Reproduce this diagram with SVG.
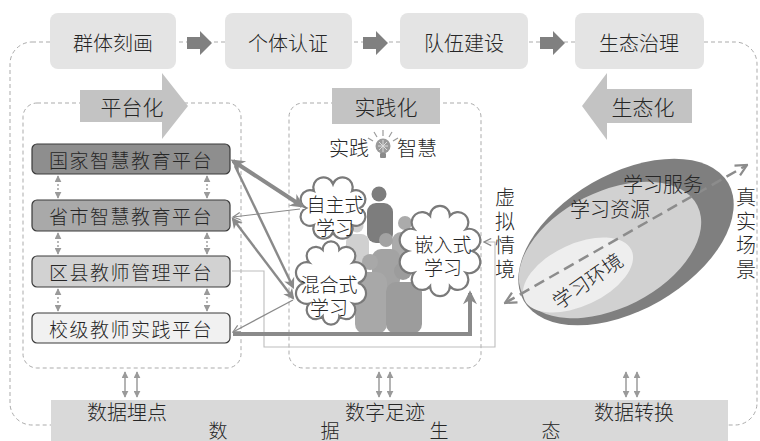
<svg xmlns="http://www.w3.org/2000/svg" width="760" height="441" viewBox="0 0 760 441">
  <style>
    text { font-family: "Noto Sans CJK SC", "Noto Sans", sans-serif; font-weight: 300; fill: #262626; dominant-baseline: central; text-anchor: middle; }
    .t20 { font-size: 20px; }
    .t19 { font-size: 19px; }
    .tp { font-size: 19px; letter-spacing: 1.5px; }
    .vt { font-size: 20px; writing-mode: vertical-rl; letter-spacing: 4px; text-anchor: start; }
    .stage { fill: #e4e4e4; }
    .flow { fill: #808080; }
    .band { fill: #c3c3c3; }
    .dash { fill: none; stroke: #ababab; stroke-width: 1; stroke-dasharray: 4 3; }
    .plat { stroke: #3a3a3a; stroke-width: 1.2; }
    .cloud { fill: #ffffff; stroke: #7a7a7a; stroke-width: 2.2; }
    .lnk { fill: none; stroke: #8a8a8a; }
    .dot { fill: none; stroke: #9a9a9a; stroke-width: 1.4; stroke-dasharray: 2 2; }
    .io { fill: none; stroke: #8c8c8c; stroke-width: 1.3; }
  </style>
  <defs>
    <marker id="hT" viewBox="0 0 10 10" refX="8" refY="5" markerWidth="16" markerHeight="14" markerUnits="userSpaceOnUse" orient="auto-start-reverse">
      <path d="M0,0 L10,5 L0,10 L3,5 z" fill="#8a8a8a"/>
    </marker>
    <marker id="hM" viewBox="0 0 10 10" refX="8" refY="5" markerWidth="12" markerHeight="11" markerUnits="userSpaceOnUse" orient="auto-start-reverse">
      <path d="M0,0 L10,5 L0,10 L3,5 z" fill="#8a8a8a"/>
    </marker>
    <marker id="hS" viewBox="0 0 10 10" refX="9" refY="5" markerWidth="9" markerHeight="9" markerUnits="userSpaceOnUse" orient="auto-start-reverse">
      <path d="M1,1 L9,5 L1,9" fill="none" stroke="#8a8a8a" stroke-width="1.4"/>
    </marker>
    <marker id="hD" viewBox="0 0 10 10" refX="9" refY="5" markerWidth="7" markerHeight="7" markerUnits="userSpaceOnUse" orient="auto-start-reverse">
      <path d="M0,0 L10,5 L0,10 z" fill="#9a9a9a"/>
    </marker>
    <marker id="hL" viewBox="0 0 10 10" refX="9" refY="5" markerWidth="14" markerHeight="14" markerUnits="userSpaceOnUse" orient="auto-start-reverse">
      <path d="M1,1 L9,5 L1,9" fill="none" stroke="#8c8c8c" stroke-width="1.6"/>
    </marker>
  </defs>

  <!-- outer loop frame -->
  <rect class="dash" x="10" y="42" width="747" height="383" rx="22"/>

  <!-- stage boxes -->
  <g id="stage-1"><rect class="stage" x="50" y="13" width="126" height="56" rx="8"/><text class="t20" x="113" y="42">群体刻画</text></g>
  <g id="stage-2"><rect class="stage" x="225" y="13" width="127" height="56" rx="8"/><text class="t20" x="288" y="42">个体认证</text></g>
  <g id="stage-3"><rect class="stage" x="400" y="13" width="128" height="56" rx="8"/><text class="t20" x="464" y="42">队伍建设</text></g>
  <g id="stage-4"><rect class="stage" x="575" y="13" width="129" height="56" rx="8"/><text class="t20" x="639" y="42">生态治理</text></g>

  <!-- section frames -->
  <rect class="dash" x="23" y="103" width="218" height="265" rx="14"/>
  <rect class="dash" x="289" y="103" width="192" height="265" rx="14"/>

  <!-- section headers -->
  <g id="platformize">
    <polygon class="band" points="80,90 162,90 162,73 188,106 162,139 162,122 80,122"/>
    <text class="t20" x="132" y="106" style="font-size:21px">平台化</text>
  </g>
  <g id="practicize">
    <rect class="band" x="332" y="88" width="108" height="36"/>
    <text class="t20" x="386" y="106" style="font-size:21px">实践化</text>
  </g>
  <g id="ecologize">
    <polygon class="band" points="692,89 607,89 607,73 582,106 607,140 607,123 692,123"/>
    <text class="t20" x="643" y="106" style="font-size:21px">生态化</text>
  </g>

  <!-- platforms -->
  <g id="plat-national"><rect class="plat" x="32" y="144" width="198" height="30" rx="5" fill="#8e8e8e"/><text class="tp" x="131" y="159">国家智慧教育平台</text></g>
  <g id="plat-province"><rect class="plat" x="32" y="200" width="198" height="31" rx="5" fill="#a9a9a9"/><text class="tp" x="131" y="215">省市智慧教育平台</text></g>
  <g id="plat-county"><rect class="plat" x="32" y="256" width="198" height="31" rx="5" fill="#d2d2d2"/><text class="tp" x="131" y="271">区县教师管理平台</text></g>
  <g id="plat-school"><rect class="plat" x="32" y="313" width="198" height="30" rx="5" fill="#f1f1f1"/><text class="tp" x="131" y="328">校级教师实践平台</text></g>

  <!-- practice wisdom title with bulb -->
  <g id="wisdom">
    <text class="t20" x="349" y="147">实践</text>
    <text class="t20" x="417" y="147">智慧</text>
    <g stroke="#9a9a9a" stroke-width="1.2">
      <line x1="383" y1="136" x2="383" y2="130"/>
      <line x1="377" y1="137" x2="374" y2="132"/>
      <line x1="389" y1="137" x2="392" y2="132"/>
      <line x1="373" y1="141" x2="368" y2="138"/>
      <line x1="393" y1="141" x2="398" y2="138"/>
    </g>
    <circle cx="383" cy="146" r="7.5" fill="#9a9a9a"/>
    <path d="M378,146 h10 M383,140 v12 M379,142 l8,8 M387,142 l-8,8" stroke="#dcdcdc" stroke-width="1"/>
    <rect x="380" y="153" width="6" height="5" rx="1" fill="#8a8a8a"/>
  </g>

  <!-- crowd -->
  <g id="crowd">
    <circle cx="379" cy="194" r="7.5" fill="#7d7d7d"/><rect x="367" y="203" width="26" height="40" rx="9" fill="#7d7d7d"/>
    <circle cx="357" cy="226" r="6.5" fill="#d0d0d0"/><rect x="346" y="234" width="23" height="34" rx="8" fill="#d0d0d0"/>
    <circle cx="405" cy="223" r="7" fill="#ababab"/><rect x="392" y="232" width="28" height="40" rx="9" fill="#ababab"/>
    <circle cx="386" cy="240" r="7" fill="#a3a3a3"/><rect x="372" y="249" width="28" height="40" rx="9" fill="#a3a3a3"/>
    <circle cx="370" cy="262" r="8" fill="#a8a8a8"/><rect x="355" y="272" width="32" height="62" rx="10" fill="#a8a8a8"/>
    <circle cx="403" cy="271" r="9" fill="#9c9c9c"/><rect x="386" y="282" width="36" height="52" rx="10" fill="#9c9c9c"/>
  </g>

  <!-- learning modes -->
  <g id="mode-self">
    <path class="cloud" transform="translate(333,208)" d="M27,0 A1,1 0 0 1 19.1,17 A1,1 0 0 1 0,24 A1,1 0 0 1 -19.1,17 A1,1 0 0 1 -27,0 A1,1 0 0 1 -19.1,-17 A1,1 0 0 1 0,-24 A1,1 0 0 1 19.1,-17 A1,1 0 0 1 27,0 Z"/>
    <text class="t19"><tspan x="335" y="203">自主式</tspan><tspan x="335" y="226">学习</tspan></text>
  </g>
  <g id="mode-blended">
    <path class="cloud" transform="translate(331,283)" d="M27,0 A1,1 0 0 1 21.8,20.6 A1,1 0 0 1 8.3,33.3 A1,1 0 0 1 -8.3,33.3 A1,1 0 0 1 -21.8,20.6 A1,1 0 0 1 -27,0 A1,1 0 0 1 -21.8,-20.6 A1,1 0 0 1 -8.3,-33.3 A1,1 0 0 1 8.3,-33.3 A1,1 0 0 1 21.8,-20.6 A1,1 0 0 1 27,0 Z"/>
    <text class="t19"><tspan x="329" y="283">混合式</tspan><tspan x="329" y="306">学习</tspan></text>
  </g>
  <g id="mode-embedded">
    <path class="cloud" transform="translate(440,251)" d="M32,0 A1,1 0 0 1 25.9,21.8 A1,1 0 0 1 9.9,35.2 A1,1 0 0 1 -9.9,35.2 A1,1 0 0 1 -25.9,21.8 A1,1 0 0 1 -32,0 A1,1 0 0 1 -25.9,-21.8 A1,1 0 0 1 -9.9,-35.2 A1,1 0 0 1 9.9,-35.2 A1,1 0 0 1 25.9,-21.8 A1,1 0 0 1 32,0 Z"/>
    <text class="t19"><tspan x="443" y="243">嵌入式</tspan><tspan x="443" y="266">学习</tspan></text>
  </g>

  <!-- learning ecology -->
  <g id="ecology">
    <ellipse cx="626" cy="242" rx="118" ry="68" transform="rotate(-30 626 242)" fill="#7f7f7f"/>
    <ellipse cx="610" cy="250" rx="98" ry="58" transform="rotate(-27 610 250)" fill="#d1d1d1"/>
    <ellipse cx="578" cy="275" rx="59" ry="31" transform="rotate(-25 578 275)" fill="#eeeeee"/>
    <line x1="505" y1="303" x2="747" y2="165" stroke="#8c8c8c" stroke-width="2.5" stroke-dasharray="11 6" marker-start="url(#hL)" marker-end="url(#hL)"/>
    <text class="t20" x="663" y="183">学习服务</text>
    <text class="t20" x="610" y="208">学习资源</text>
    <text class="t20" x="587" y="280" transform="rotate(-35 587 280)">学习环境</text>
  </g>
  <g id="virtual">
    <text class="vt" x="505" y="187">虚拟情境</text>
  </g>
  <g id="real">
    <text class="vt" x="746" y="187">真实场景</text>
  </g>

  <!-- data ecology base -->
  <g id="data-ecology">
    <rect x="51" y="400" width="677" height="41" fill="#d9d9d9"/>
    <text class="t20" x="127" y="411">数据埋点</text>
    <text class="t20" x="385" y="411">数字足迹</text>
    <text class="t20" x="634" y="411">数据转换</text>
    <text class="t19" x="218" y="429">数</text>
    <text class="t19" x="330" y="429">据</text>
    <text class="t19" x="439" y="429">生</text>
    <text class="t19" x="551" y="429">态</text>
  </g>

  <!-- connectors -->
  <g id="connectors">
    <polygon class="flow" points="187,37 200,37 200,31 212,43 200,55 200,49 187,49"/>
    <polygon class="flow" points="363,37 376,37 376,31 388,43 376,55 376,49 363,49"/>
    <polygon class="flow" points="540,37 553,37 553,31 565,43 553,55 553,49 540,49"/>

    <line class="dot" x1="58" y1="176" x2="58" y2="198" marker-start="url(#hD)" marker-end="url(#hD)"/>
    <line class="dot" x1="207" y1="176" x2="207" y2="198" marker-start="url(#hD)" marker-end="url(#hD)"/>
    <line class="dot" x1="58" y1="233" x2="58" y2="254" marker-start="url(#hD)" marker-end="url(#hD)"/>
    <line class="dot" x1="207" y1="233" x2="207" y2="254" marker-start="url(#hD)" marker-end="url(#hD)"/>
    <line class="dot" x1="58" y1="289" x2="58" y2="311" marker-start="url(#hD)" marker-end="url(#hD)"/>
    <line class="dot" x1="207" y1="289" x2="207" y2="311" marker-start="url(#hD)" marker-end="url(#hD)"/>

    <polyline points="232,271 264,271 264,347 495,347 495,242 484,242" fill="none" stroke="#bdbdbd" stroke-width="1.1" marker-end="url(#hS)"/>

    <line class="lnk" x1="233" y1="161" x2="302" y2="206" stroke-width="4" marker-start="url(#hT)" marker-end="url(#hT)"/>
    <line class="lnk" x1="235" y1="166" x2="293" y2="287" stroke-width="2.4" marker-end="url(#hM)"/>
    <line class="lnk" x1="233" y1="219" x2="293" y2="298" stroke-width="2.4" marker-start="url(#hM)" marker-end="url(#hM)"/>
    <line class="lnk" x1="300" y1="209" x2="233" y2="217" stroke-width="1.2" marker-end="url(#hS)"/>
    <line class="lnk" x1="293" y1="300" x2="233" y2="332" stroke-width="1.2" marker-end="url(#hS)"/>
    <polyline class="lnk" points="233,334 470,334 470,293" stroke-width="4" marker-end="url(#hT)"/>

    <line class="io" x1="125" y1="372" x2="125" y2="397" marker-start="url(#hD)" marker-end="url(#hD)"/>
    <line class="io" x1="137" y1="372" x2="137" y2="397" marker-start="url(#hD)" marker-end="url(#hD)"/>
    <line class="io" x1="379" y1="372" x2="379" y2="397" marker-start="url(#hD)" marker-end="url(#hD)"/>
    <line class="io" x1="390" y1="372" x2="390" y2="397" marker-start="url(#hD)" marker-end="url(#hD)"/>
    <line class="io" x1="626" y1="372" x2="626" y2="397" marker-start="url(#hD)" marker-end="url(#hD)"/>
    <line class="io" x1="637" y1="372" x2="637" y2="397" marker-start="url(#hD)" marker-end="url(#hD)"/>
  </g>
</svg>
